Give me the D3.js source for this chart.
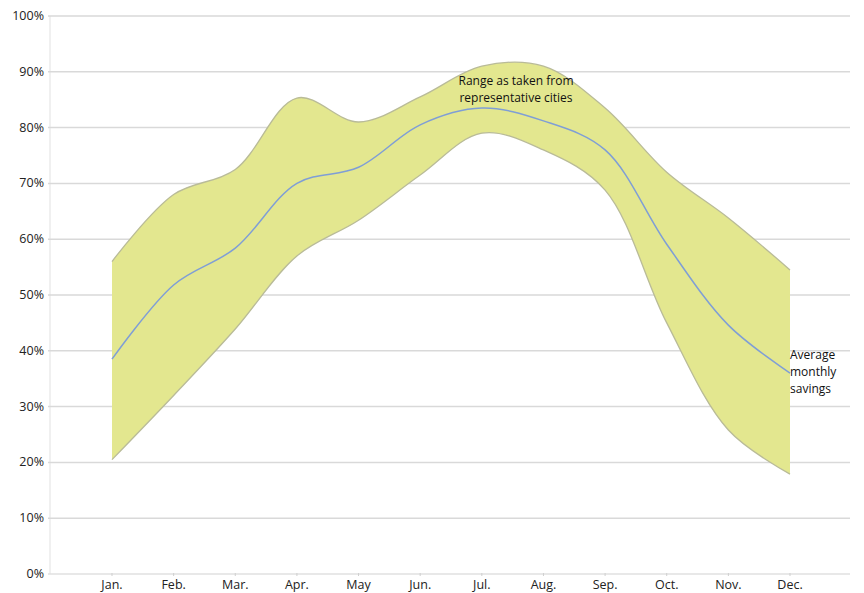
<!DOCTYPE html>
<html><head><meta charset="utf-8">
<script src="https://cdn.jsdelivr.net/npm/d3@7"></script>
<style>
html,body{margin:0;padding:0;background:#fff;}
svg{display:block;font-family:"Open Sans","Noto Sans",sans-serif;}
</style></head>
<body>
<svg id="c" width="864" height="593"></svg>
<script>
const months = ["Jan.","Feb.","Mar.","Apr.","May","Jun.","Jul.","Aug.","Sep.","Oct.","Nov.","Dec."];
const upper  = [56, 68, 72.5, 85.3, 81, 85.5, 91, 91, 83.5, 72, 63.8, 54.5];
const lower  = [20.5, 32, 43.9, 57, 63.4, 71.5, 79, 76, 68.8, 45, 25.8, 17.9];
const mean   = [38.5, 51.8, 58.4, 70, 72.9, 80.5, 83.5, 81.2, 76, 59.1, 44.6, 36];
const yTicks = [0,10,20,30,40,50,60,70,80,90,100];

const svg = d3.select("#c");
const x = d3.scalePoint().domain(months).range([112, 790]);
const y = d3.scaleLinear().domain([0,100]).range([574, 16]);

// faint vertical axis
svg.append("line").attr("x1",50).attr("x2",50).attr("y1",16).attr("y2",574)
  .attr("stroke","#f0f0f0").attr("stroke-width",2);

// grid
svg.append("g").selectAll("line").data(yTicks.filter(d=>d>0)).join("line")
  .attr("x1",48).attr("x2",850).attr("y1",d=>y(d)).attr("y2",d=>y(d))
  .attr("stroke","#d9d9d9").attr("stroke-width",1.5);

// x axis baseline
svg.append("line").attr("x1",48).attr("x2",850).attr("y1",y(0)).attr("y2",y(0))
  .attr("stroke","#e0e0e0").attr("stroke-width",1.5);
svg.append("g").selectAll("line").data(months).join("line")
  .attr("x1",d=>x(d)).attr("x2",d=>x(d)).attr("y1",y(0)-1).attr("y2",y(0)+2)
  .attr("stroke","#cfcfcf");

// y labels
svg.append("g").selectAll("text").data(yTicks).join("text")
  .attr("x",44).attr("y",d=>y(d)+4).attr("text-anchor","end")
  .attr("font-size",12.5).attr("fill","#222").text(d=>d+"%");

// x labels
svg.append("g").selectAll("text").data(months).join("text")
  .attr("x",d=>x(d)).attr("y",589).attr("text-anchor","middle")
  .attr("font-size",12.5).attr("fill","#222").text(d=>d);

const data = months.map((m,i)=>({m, u:upper[i], l:lower[i], v:mean[i]}));
const curve = d3.curveCatmullRom.alpha(0.5);

const area = d3.area().x(d=>x(d.m)).y0(d=>y(d.l)).y1(d=>y(d.u)).curve(curve);
svg.append("path").datum(data).attr("d",area).attr("fill","#e3e78f");

const lineU = d3.line().x(d=>x(d.m)).y(d=>y(d.u)).curve(curve);
const lineL = d3.line().x(d=>x(d.m)).y(d=>y(d.l)).curve(curve);
svg.append("path").datum(data).attr("d",lineU).attr("fill","none").attr("stroke","#b9bb98").attr("stroke-width",1.3);
svg.append("path").datum(data).attr("d",lineL).attr("fill","none").attr("stroke","#b9bb98").attr("stroke-width",1.3);

const lineM = d3.line().x(d=>x(d.m)).y(d=>y(d.v)).curve(curve);
svg.append("path").datum(data).attr("d",lineM).attr("fill","none").attr("stroke","#7f9ed6").attr("stroke-width",1.5);

// annotations
const ann = svg.append("text").attr("font-size",12).attr("fill","#111");
ann.append("tspan").attr("x",516).attr("y",85).attr("text-anchor","middle").text("Range as taken from");
ann.append("tspan").attr("x",516).attr("y",102).attr("text-anchor","middle").text("representative cities");

const ann2 = svg.append("text").attr("font-size",12).attr("fill","#111");
["Average","monthly","savings"].forEach((t,i)=>{
  ann2.append("tspan").attr("x",790).attr("y",359+i*17).text(t);
});
</script>
</body></html>
